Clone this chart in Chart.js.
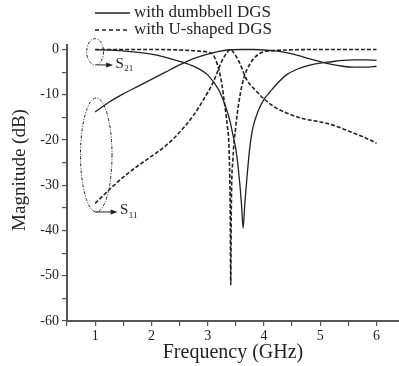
<!DOCTYPE html>
<html>
<head>
<meta charset="utf-8">
<script src="https://cdn.jsdelivr.net/npm/chart.js@4"></script>
<style>
  html, body { margin: 0; padding: 0; background: #fff; }
  #wrap { width: 399px; height: 366px; }
</style>
</head>
<body>
<div id="wrap"><canvas id="myChart" width="399" height="366"></canvas></div>
<script>
// dumbbell DGS (solid)
var dumbS21Freq = [1.0, 1.5, 2.0, 2.5, 2.8, 3.0, 3.2, 3.3, 3.4, 3.45, 3.5, 3.55, 3.6, 3.63, 3.66, 3.7, 3.75, 3.8, 3.9, 4.0, 4.1, 4.2, 4.4, 4.6, 4.8, 5.0, 5.2, 5.4, 5.6, 5.8, 6.0];
var dumbS21Mag  = [0, -0.3, -1.0, -2.6, -4.0, -5.6, -9.0, -12, -16, -19, -22, -27, -34, -39.5, -34, -28, -21.5, -17.5, -13.5, -11, -9.5, -8.0, -5.6, -4.3, -3.5, -3.0, -2.7, -2.4, -2.3, -2.3, -2.4];
var dumbS11Freq = [1.0, 1.25, 1.5, 1.75, 2.0, 2.25, 2.5, 2.75, 3.0, 3.2, 3.4, 3.6, 3.8, 4.0, 4.2, 4.4, 4.6, 4.8, 5.0, 5.2, 5.4, 5.6, 5.8, 6.0];
var dumbS11Mag  = [-13.8, -11.6, -9.8, -8.2, -6.6, -5.0, -3.4, -2.0, -1.0, -0.4, -0.05, 0, 0, -0.1, -0.3, -0.7, -1.3, -2.0, -2.7, -3.3, -3.7, -3.9, -3.9, -3.7];

// U-shaped DGS (dashed)
var uS21Freq = [1.0, 1.5, 2.0, 2.5, 2.8, 3.0, 3.1, 3.2, 3.25, 3.3, 3.35, 3.38, 3.4, 3.41, 3.42, 3.45, 3.5, 3.55, 3.6, 3.65, 3.75, 3.85, 3.95, 4.1, 4.4, 5.0, 6.0];
var uS21Mag  = [0, 0, 0, -0.1, -0.3, -0.6, -1.2, -4.5, -7.5, -12, -17, -22, -35, -52, -35, -24, -17, -12, -8.5, -6, -3.2, -1.6, -0.7, -0.3, -0.1, 0, 0];
var uS11Freq = [1.0, 1.25, 1.5, 1.75, 2.0, 2.25, 2.5, 2.75, 3.0, 3.1, 3.25, 3.35, 3.4, 3.45, 3.55, 3.7, 3.85, 4.0, 4.2, 4.46, 4.7, 5.0, 5.2, 5.4, 5.6, 5.8, 6.0];
var uS11Mag  = [-34, -31, -28.2, -25.8, -23.6, -21.3, -18.3, -14.5, -9.5, -7.2, -2.6, -0.6, 0, -0.5, -2.5, -6.8, -9, -10.9, -12.8, -14.3, -15.3, -16, -16.6, -17.5, -18.5, -19.5, -20.7];

var xTicks = [0.5, 1, 1.5, 2, 2.5, 3, 3.5, 4, 4.5, 5, 5.5, 6];
var yTicks = [-60, -55, -50, -45, -40, -35, -30, -25, -20, -15, -10, -5, 0];
var legendLabels = ['with dumbbell DGS', 'with U-shaped DGS'];

var serif = '"Liberation Serif", "Times New Roman", serif';
var ink = '#222';

function pts(xs, ys) {
  return xs.map(function (v, i) { return { x: v, y: ys[i] }; });
}

function series(xs, ys, dashed) {
  return {
    data: pts(xs, ys),
    borderColor: ink,
    borderWidth: dashed ? 1.6 : 1.3,
    borderDash: dashed ? [4, 2] : [],
    pointRadius: 0,
    fill: false,
    cubicInterpolationMode: 'monotone'
  };
}

function drawEllipse(ctx, cx, cy, rx, ry) {
  ctx.beginPath();
  ctx.ellipse(cx, cy, rx, ry, 0, 0, Math.PI * 2);
  ctx.stroke();
}

function drawArrow(ctx, x1, y, x2) {
  ctx.setLineDash([]);
  ctx.beginPath();
  ctx.moveTo(x1, y);
  ctx.lineTo(x2 - 5, y);
  ctx.stroke();
  ctx.beginPath();
  ctx.moveTo(x2, y);
  ctx.lineTo(x2 - 7, y - 2.5);
  ctx.lineTo(x2 - 7, y + 2.5);
  ctx.closePath();
  ctx.fill();
}

function drawSLabel(ctx, x, y, sub) {
  ctx.textAlign = 'left';
  ctx.textBaseline = 'middle';
  ctx.font = '15px ' + serif;
  ctx.fillText('S', x, y);
  var w = ctx.measureText('S').width;
  ctx.font = '9px ' + serif;
  ctx.fillText(sub, x + w + 0.5, y + 5);
}

var decor = {
  id: 'decor',
  afterDraw: function (chart) {
    var ctx = chart.ctx;
    var x = chart.scales.x, y = chart.scales.y;
    ctx.save();
    ctx.strokeStyle = ink;
    ctx.fillStyle = ink;

    // legend
    ctx.lineWidth = 1.3;
    ctx.setLineDash([]);
    ctx.beginPath(); ctx.moveTo(95, 13); ctx.lineTo(130, 13); ctx.stroke();
    ctx.lineWidth = 1.6;
    ctx.setLineDash([4, 3]);
    ctx.beginPath(); ctx.moveTo(95, 30); ctx.lineTo(130, 30); ctx.stroke();
    ctx.setLineDash([]);
    ctx.font = '17px ' + serif;
    ctx.textAlign = 'left';
    ctx.textBaseline = 'middle';
    ctx.fillText(legendLabels[0], 134, 13);
    ctx.fillText(legendLabels[1], 134, 30);

    // y title
    ctx.save();
    ctx.translate(20, 170);
    ctx.rotate(-Math.PI / 2);
    ctx.textAlign = 'center';
    ctx.font = '19px ' + serif;
    ctx.fillText('Magnitude (dB)', 0, 0);
    ctx.restore();

    // S21 ellipse + arrow
    ctx.lineWidth = 1;
    ctx.setLineDash([3, 1.5, 1, 1.5]);
    var c1x = x.getPixelForValue(1.0), c1y = y.getPixelForValue(-0.5);
    drawEllipse(ctx, c1x, c1y, c1x - x.getPixelForValue(0.85), y.getPixelForValue(-3.4) - c1y);
    drawArrow(ctx, c1x + 2, y.getPixelForValue(-3.4), x.getPixelForValue(1.32));
    drawSLabel(ctx, x.getPixelForValue(1.36), y.getPixelForValue(-3.2), '21');

    // S11 ellipse + arrow
    ctx.setLineDash([3, 1.5, 1, 1.5]);
    var c2x = x.getPixelForValue(1.02), c2y = y.getPixelForValue(-23.3);
    drawEllipse(ctx, c2x, c2y, c2x - x.getPixelForValue(0.74), y.getPixelForValue(-35.9) - c2y);
    drawArrow(ctx, x.getPixelForValue(1.0), y.getPixelForValue(-35.9), x.getPixelForValue(1.4));
    drawSLabel(ctx, x.getPixelForValue(1.44), y.getPixelForValue(-35.5), '11');

    ctx.restore();
  }
};

new Chart(document.getElementById('myChart'), {
  type: 'line',
  data: {
    datasets: [
      series(dumbS21Freq, dumbS21Mag, false),
      series(dumbS11Freq, dumbS11Mag, false),
      series(uS21Freq, uS21Mag, true),
      series(uS11Freq, uS11Mag, true)
    ]
  },
  options: {
    responsive: false,
    animation: false,
    layout: { padding: { top: 45, left: 0, right: 0, bottom: 0 } },
    plugins: { legend: { display: false }, tooltip: { enabled: false } },
    scales: {
      x: {
        type: 'linear',
        min: 0.5,
        max: 6.4,
        afterBuildTicks: function (s) { s.ticks = xTicks.map(function (v) { return { value: v }; }); },
        afterFit: function (s) { s.height = 45; },
        border: { display: true, color: '#555', width: 2 },
        grid: { drawOnChartArea: false, drawTicks: true, tickLength: 5, color: '#555', lineWidth: 1.2 },
        ticks: {
          color: ink,
          padding: 2,
          maxRotation: 0,
          autoSkip: false,
          font: { family: serif, size: 14 },
          callback: function (v) { return Number.isInteger(v) ? String(v) : ''; }
        },
        title: {
          display: true,
          text: 'Frequency (GHz)',
          color: ink,
          font: { family: serif, size: 20 },
          padding: { top: 0, bottom: 1 }
        }
      },
      y: {
        type: 'linear',
        min: -60,
        max: 1,
        afterBuildTicks: function (s) { s.ticks = yTicks.map(function (v) { return { value: v }; }); },
        afterFit: function (s) { s.width = 67; },
        border: { display: true, color: '#555', width: 2 },
        grid: { drawOnChartArea: false, drawTicks: true, tickLength: 5, color: '#555', lineWidth: 1.2 },
        ticks: {
          color: ink,
          padding: 3,
          autoSkip: false,
          font: { family: serif, size: 14 },
          callback: function (v) { return v % 10 === 0 ? String(v) : ''; }
        }
      }
    }
  },
  plugins: [decor]
});
</script>
</body>
</html>
